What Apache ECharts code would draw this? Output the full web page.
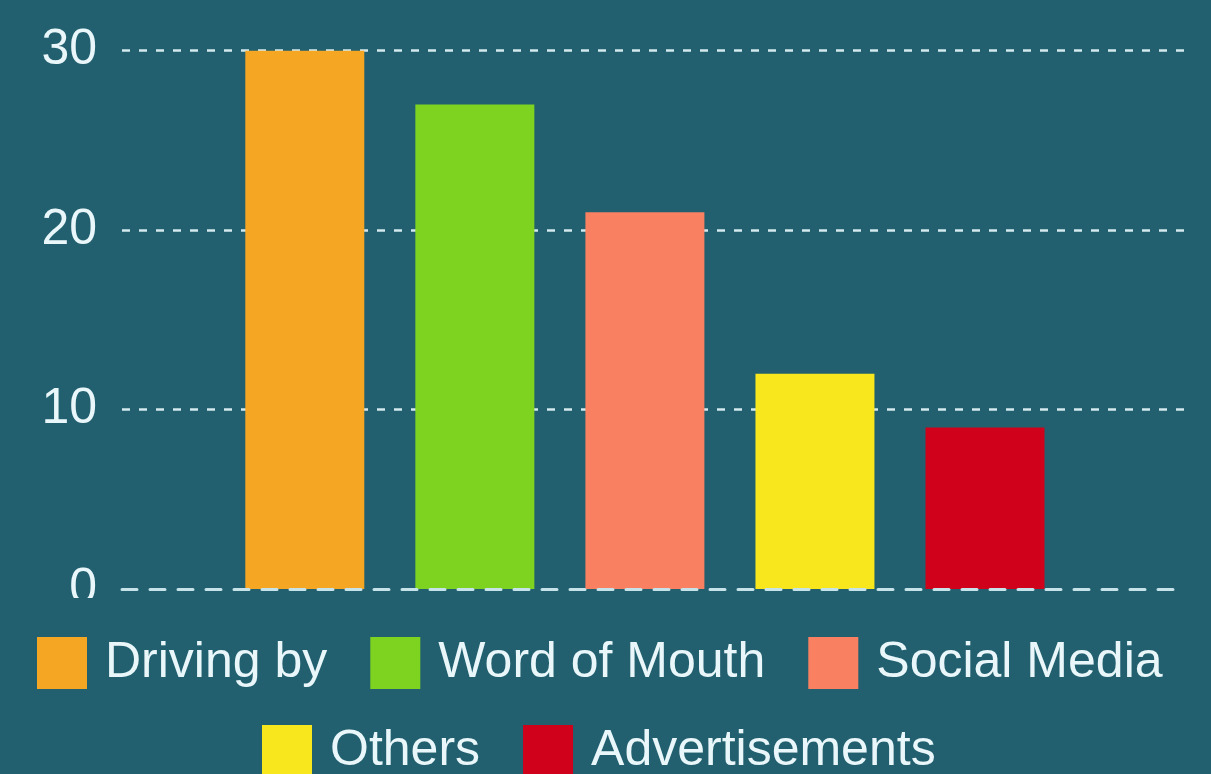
<!DOCTYPE html>
<html>
<head>
<meta charset="utf-8">
<script src="https://cdn.jsdelivr.net/npm/echarts@6/dist/echarts.min.js"></script>
<style>
html,body{margin:0;padding:0;background:#22606f;}
#chart{width:1211px;height:774px;}
</style>
</head>
<body>
<div id="chart"></div>
<script>
// ---- data ----
const categories = ['Driving by', 'Word of Mouth', 'Social Media', 'Others', 'Advertisements'];
const values = [30, 27, 21, 12, 9];
const yTicks = [0, 10, 20, 30];

// ---- styles ----
const palette = ['#f5a623', '#7ed321', '#fa8062', '#f8e71c', '#d0021b'];
const BG = '#22606f';
const TXT = '#eaf7fa';
const FONT = 'Liberation Sans, Arial, sans-serif';

const chart = echarts.init(document.getElementById('chart'), null, {renderer: 'canvas'});

const series = categories.map((name, i) => ({
  name: name,
  type: 'bar',
  xAxisIndex: 1,
  yAxisIndex: 1,
  barWidth: 119,
  barGap: '42.9%',
  itemStyle: {color: palette[i]},
  data: [values[i]],
  z: 2
}));

const legendCommon = {
  orient: 'horizontal',
  padding: 0,
  itemWidth: 50,
  itemHeight: 52,
  itemGap: 43,
  icon: 'rect',
  z: 20,
  selectedMode: false,
  textStyle: {color: TXT, fontSize: 50, fontFamily: FONT, lineHeight: 52, padding: [0, 0, 0, 13]}
};

chart.setOption({
  backgroundColor: BG,
  animation: false,
  grid: [
    {left: 122, right: 27, top: 50.7, bottom: 185, containLabel: false},
    {left: 122, right: 43.2, top: 50.7, bottom: 185, containLabel: false}
  ],
  xAxis: [
    {
      type: 'category', gridIndex: 0, data: ['all'], z: 5,
      axisLine: {show: true, lineStyle: {color: '#c6e3ea', width: 3, type: [15, 13]}},
      axisTick: {show: false}, axisLabel: {show: false}, splitLine: {show: false}
    },
    {
      type: 'category', gridIndex: 1, data: ['all'],
      axisLine: {show: false}, axisTick: {show: false}, axisLabel: {show: false}, splitLine: {show: false}
    }
  ],
  yAxis: [
    {
      type: 'value', gridIndex: 0,
      min: yTicks[0], max: yTicks[yTicks.length - 1], interval: yTicks[1] - yTicks[0],
      axisLine: {show: false}, axisTick: {show: false},
      axisLabel: {color: TXT, fontSize: 50, fontFamily: FONT, margin: 25},
      splitLine: {show: true, showMinLine: false, lineStyle: {color: '#d3e9ee', width: 2.5, type: [8, 9]}}
    },
    {
      type: 'value', gridIndex: 1,
      min: yTicks[0], max: yTicks[yTicks.length - 1],
      axisLine: {show: false}, axisTick: {show: false}, axisLabel: {show: false}, splitLine: {show: false}
    }
  ],
  legend: [
    Object.assign({}, legendCommon, {data: categories.slice(0, 3), left: 37, top: 637}),
    Object.assign({}, legendCommon, {data: categories.slice(3), left: 262, top: 725})
  ],
  graphic: [
    {type: 'rect', left: 0, top: 598, shape: {x: 0, y: 0, width: 1211, height: 176}, style: {fill: BG}, z: 10, silent: true}
  ],
  series: series
});
</script>
</body>
</html>
